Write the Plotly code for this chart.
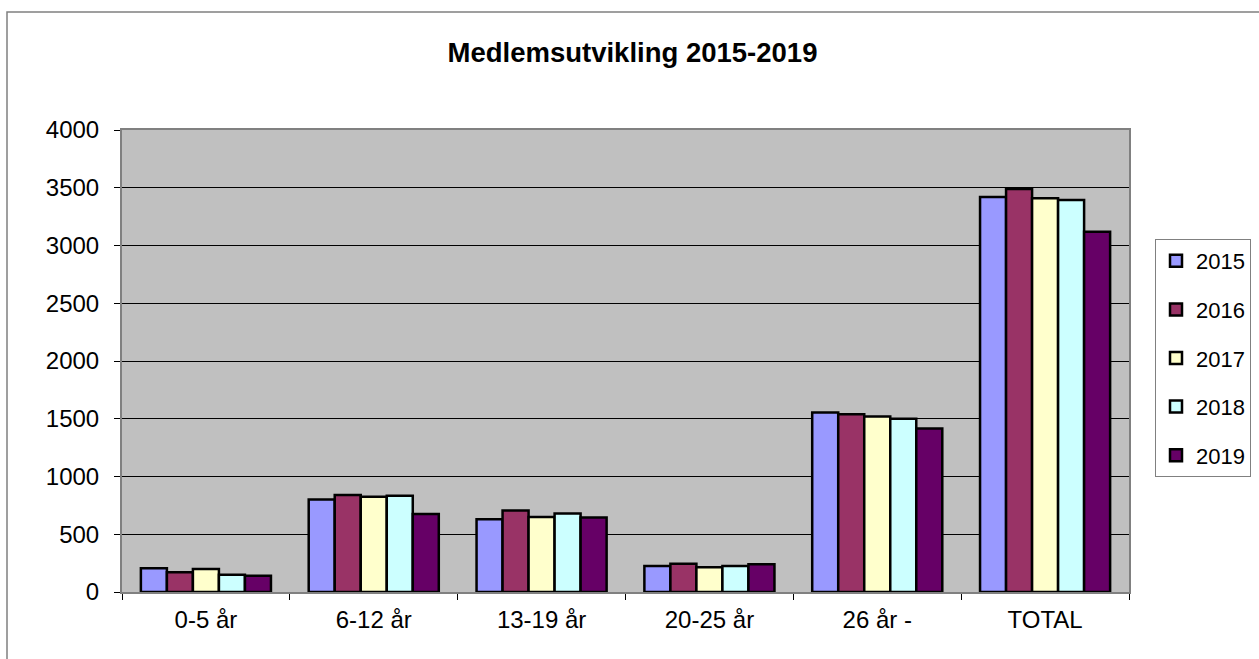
import plotly.graph_objects as go

categories = ["0-5 år", "6-12 år", "13-19 år", "20-25 år", "26 år -", "TOTAL"]
years = ["2015", "2016", "2017", "2018", "2019"]
v2015 = [205, 800, 630, 225, 1555, 3420]
v2016 = [170, 840, 705, 245, 1540, 3490]
v2017 = [200, 825, 650, 215, 1520, 3410]
v2018 = [150, 833, 680, 225, 1500, 3395]
v2019 = [140, 675, 645, 240, 1415, 3120]
series = [v2015, v2016, v2017, v2018, v2019]
colors = ["#9999FF", "#993366", "#FFFFCC", "#CCFFFF", "#660066"]

FONT = "Arial, 'Liberation Sans', sans-serif"
W, H = 1259, 659
ML, MR, MT, MB = 122, 130, 130, 67

fig = go.Figure()
for name, vals, col in zip(years, series, colors):
    fig.add_trace(go.Bar(
        x=categories, y=vals, name=name, legendgroup=name,
        marker=dict(color=col, line=dict(color="black", width=2.5)),
    ))

pw = W - ML - MR
ph = H - MT - MB
fig.add_shape(type="rect", xref="paper", yref="paper",
              x0=(7 - ML) / pw, x1=(W + 5 - ML) / pw,
              y0=-(MB + 5) / ph, y1=(H - 12 - MB) / ph,
              line=dict(color="#808080", width=1.5), fillcolor="rgba(0,0,0,0)",
              layer="below")

fig.update_layout(
    width=W, height=H,
    margin=dict(l=ML, r=MR, t=MT, b=MB, autoexpand=False),
    paper_bgcolor="white", plot_bgcolor="#C0C0C0",
    font=dict(family=FONT, size=24, color="black"),
    title=dict(text="<b>Medlemsutvikling 2015-2019</b>", xref="container", x=632.5 / W,
               xanchor="center", y=1 - 52 / H, yanchor="middle",
               font=dict(family=FONT, size=27.5, color="black")),
    barmode="group", bargap=0.225, bargroupgap=0,
    showlegend=True,
    legend=dict(x=(1155 - ML) / pw, xanchor="left", y=(H - MB - 239) / ph, yanchor="top",
                bgcolor="white", bordercolor="#808080", borderwidth=1,
                font=dict(family=FONT, size=22, color="black"),
                traceorder="grouped", tracegroupgap=17, itemwidth=30),
    xaxis=dict(showline=True, linecolor="#808080", linewidth=2, mirror=True,
               ticks="outside", tickson="boundaries", ticklen=6, tickcolor="black",
               tickfont=dict(size=24), ticklabelstandoff=5),
    yaxis=dict(range=[0, 4000], dtick=500, showline=True, linecolor="#808080", linewidth=2,
               mirror=True, ticks="outside", ticklen=6, tickcolor="black",
               showgrid=True, gridcolor="black", gridwidth=1, zeroline=False,
               tickfont=dict(size=24), ticklabelstandoff=10),
)

fig.write_html("out.html", config={"displayModeBar": False},
               post_script="document.body.style.margin='0';document.body.style.overflow='hidden';")
